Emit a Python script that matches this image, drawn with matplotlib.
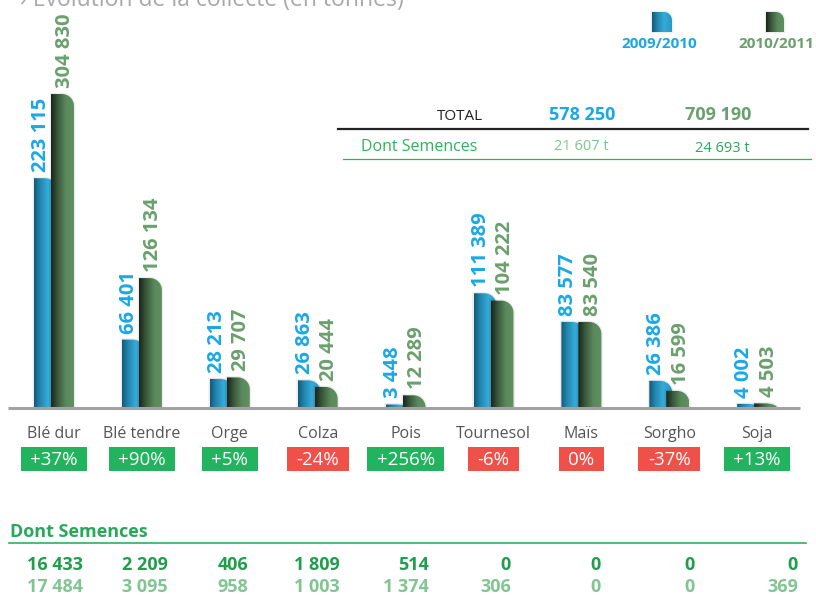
import numpy as np
import matplotlib
matplotlib.use("Agg")
import matplotlib.pyplot as plt
from matplotlib.path import Path
from matplotlib.patches import PathPatch, Rectangle
from matplotlib.colors import LinearSegmentedColormap
from matplotlib.transforms import blended_transform_factory

plt.rcParams['font.family'] = ['Open Sans', 'DejaVu Sans']

cultures = ['Blé dur', 'Blé tendre', 'Orge', 'Colza', 'Pois', 'Tournesol', 'Maïs', 'Sorgho', 'Soja']
collecte_2010 = [223115, 66401, 28213, 26863, 3448, 111389, 83577, 26386, 4002]
collecte_2011 = [304830, 126134, 29707, 20444, 12289, 104222, 83540, 16599, 4503]
evolution = ['+37%', '+90%', '+5%', '-24%', '+256%', '-6%', '0%', '-37%', '+13%']
semences_2010 = [16433, 2209, 406, 1809, 514, 0, 0, 0, 0]
semences_2011 = [17484, 3095, 958, 1003, 1374, 306, 0, 0, 369]
saisons = ['2009/2010', '2010/2011']
total = [578250, 709190]
total_semences = [21607, 24693]


def fmt(v):
    return f"{v:,}".replace(",", " ")


# pixel layout
W, H = 816, 595
base_px = 408
x0_px = 54
step = 87.9
kpx = 1.03e-3  # px per tonne

blue_cm = LinearSegmentedColormap.from_list('b', [(0, '#135a75'), (0.25, '#2284ad'), (0.6, '#35abd8'), (1, '#2a98c4')])
green_cm = LinearSegmentedColormap.from_list('g', [(0, '#1a251a'), (0.3, '#3a5a3c'), (0.65, '#5a895c'), (1, '#5f9062')])

blue_txt = '#19a8e6'
green_txt = '#69a06c'


def grad_bar(axe, x, w, y, h, rx, ry, cmap, z):
    if abs(ry) > abs(h):
        ry = h
    c = 0.5523
    verts = [(x, y), (x + w, y), (x + w, y + h - ry), (x + w, y + h - ry + c * ry),
             (x + w - rx + c * rx, y + h), (x + w - rx, y + h), (x, y + h), (x, y)]
    codes = [Path.MOVETO, Path.LINETO, Path.LINETO, Path.CURVE4, Path.CURVE4,
             Path.CURVE4, Path.LINETO, Path.CLOSEPOLY]
    p = Path(verts, codes)
    axe.add_patch(PathPatch(p, facecolor='none', edgecolor='black', lw=2.0, alpha=0.07, zorder=z - 0.5))
    clip = PathPatch(p, facecolor='none', edgecolor='none', zorder=z)
    axe.add_patch(clip)
    im = axe.imshow(np.linspace(0, 1, 64)[None, :], cmap=cmap, extent=(x, x + w, y, y + h),
                    aspect='auto', interpolation='bilinear', zorder=z, origin='lower')
    im.set_clip_path(clip)


fig = plt.figure(figsize=(W / 100, H / 100), dpi=100)
ax = fig.add_axes([0, (H - base_px) / H, 1, base_px / H])
ax.axis('off')

bw = 23 / step
rx = 12 / step
ry = 12 / kpx
for i in range(len(cultures)):
    grad_bar(ax, i - 20 / step, bw, 0, collecte_2010[i], rx, ry, blue_cm, 2)
    grad_bar(ax, i - 3 / step, bw, 0, collecte_2011[i], rx, ry, green_cm, 3)
    ax.text(i - 13 / step, collecte_2010[i] + 6 / kpx, fmt(collecte_2010[i]), rotation=90,
            ha='center', va='bottom', color=blue_txt, fontsize=14.5, fontweight='bold')
    ax.text(i + 11.5 / step, collecte_2011[i] + 6 / kpx, fmt(collecte_2011[i]), rotation=90,
            ha='center', va='bottom', color=green_txt, fontsize=14.5, fontweight='bold')

ax.set_xlim(-x0_px / step, (W - x0_px) / step)
ax.set_ylim(0, base_px / kpx)

# overlay in figure pixels
ov = fig.add_axes([0, 0, 1, 1])
ov.axis('off')
ov.patch.set_visible(False)
tr = blended_transform_factory(ax.transData, ov.transData)

ov.plot([8, 800], [408, 408], color='#a3a3a3', lw=2.2, solid_capstyle='butt')

# title (cut at top, as in the source page)
ov.text(20, 6, '› Évolution de la collecte (en tonnes)', color='#a8a8a8', fontsize=16.5, va='baseline')

# legend
grad_bar(ov, 652, 20, 32, -20, 8, -8, blue_cm, 2)
grad_bar(ov, 766, 18, 32, -20, 8, -8, green_cm, 2)
ov.text(659, 44, saisons[0], color=blue_txt, fontsize=11, fontweight='bold', ha='center', va='center')
ov.text(776, 44, saisons[1], color=green_txt, fontsize=11, fontweight='bold', ha='center', va='center')

# total table
ov.text(483, 117, 'TOTAL', color='#222222', fontsize=11, ha='right', va='center')
ov.text(582, 115, fmt(total[0]), color=blue_txt, fontsize=13, fontweight='bold', ha='center', va='center')
ov.text(718, 115, fmt(total[1]), color=green_txt, fontsize=13, fontweight='bold', ha='center', va='center')
ov.plot([338, 808], [129, 129], color='#222222', lw=1.6)
ov.text(361, 147, 'Dont Semences', color='#2db35a', fontsize=11.5, ha='left', va='center')
ov.text(581, 147, fmt(total_semences[0]) + ' t', color='#7dc68e', fontsize=10.5, ha='center', va='center')
ov.text(722, 148, fmt(total_semences[1]) + ' t', color='#2aa857', fontsize=10.5, ha='center', va='center')
ov.plot([343, 811], [159, 159], color='#2db35a', lw=0.9)

# categories and evolution boxes
pct_texts = []
for i, (name, ev) in enumerate(zip(cultures, evolution)):
    ov.text(i, 434, name, transform=tr, color='#555555', fontsize=11.5, ha='center', va='center')
    t = ov.text(i, 460, ev, transform=tr, color='white', fontsize=13.5, ha='center', va='center', zorder=5)
    pct_texts.append(t)

fig.canvas.draw()
r = fig.canvas.get_renderer()
for i, (t, ev) in enumerate(zip(pct_texts, evolution)):
    wpx = t.get_window_extent(r).width + 19
    col = '#22b35e' if ev.startswith('+') else '#ef5148'
    ov.add_patch(Rectangle((i - wpx / 2 / step, 447), wpx / step, 24, transform=tr,
                           facecolor=col, edgecolor='none', zorder=4))

# dont semences table
ov.text(10, 532, 'Dont Semences', color='#2aa85a', fontsize=13, fontweight='bold', ha='left', va='center')
ov.plot([9, 806], [543, 543], color='#2db35a', lw=1.2)
right_edges = [83, 168, 248, 340, 429, 511, 601, 695, 798]
for xr, a, b in zip(right_edges, semences_2010, semences_2011):
    ov.text(xr, 565, fmt(a), color='#1f9e4b', fontsize=13, fontweight='bold', ha='right', va='center')
    ov.text(xr, 587, fmt(b), color='#80c592', fontsize=13, fontweight='bold', ha='right', va='center')

ov.set_xlim(0, W)
ov.set_ylim(H, 0)

fig.savefig('out.png', dpi=100)
